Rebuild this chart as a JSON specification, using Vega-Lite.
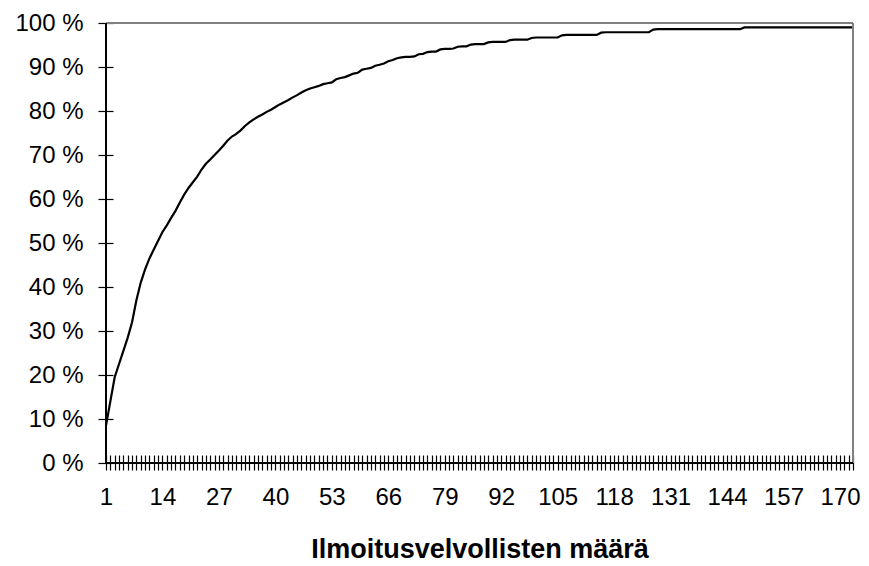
{
  "$schema": "https://vega.github.io/schema/vega-lite/v6.json",
  "autosize": "none",
  "padding": {"left": 106, "top": 23, "right": 16, "bottom": 103},
  "width": 747,
  "height": 440,
  "config": {
    "view": {"stroke": null},
    "font": "Liberation Sans",
    "axis": {"grid": false, "labelColor": "black", "titleColor": "black", "labelFont": "Liberation Sans", "titleFont": "Liberation Sans"}
  },
  "resolve": {"axis": {"x": "independent", "y": "independent"}},
  "data": {"values": [
    {"n":1,"p":8.5},{"n":2,"p":14},{"n":3,"p":19.5},{"n":4,"p":22.5},{"n":5,"p":25.5},{"n":6,"p":28.5},{"n":7,"p":32},{"n":8,"p":37},{"n":9,"p":41},{"n":10,"p":44},
    {"n":11,"p":46.5},{"n":12,"p":48.5},{"n":13,"p":50.5},{"n":14,"p":52.5},{"n":15,"p":54},{"n":16,"p":55.7},{"n":17,"p":57.3},{"n":18,"p":59.2},{"n":19,"p":61},{"n":20,"p":62.5},
    {"n":21,"p":63.8},{"n":22,"p":65.1},{"n":23,"p":66.7},{"n":24,"p":68},{"n":25,"p":69},{"n":26,"p":70},{"n":27,"p":71},{"n":28,"p":72.1},{"n":29,"p":73.3},{"n":30,"p":74.2},
    {"n":31,"p":74.8},{"n":32,"p":75.6},{"n":33,"p":76.6},{"n":34,"p":77.4},{"n":35,"p":78.1},{"n":36,"p":78.7},{"n":37,"p":79.2},{"n":38,"p":79.8},{"n":39,"p":80.3},{"n":40,"p":80.9},
    {"n":41,"p":81.5},{"n":42,"p":82},{"n":43,"p":82.5},{"n":44,"p":83.1},{"n":45,"p":83.6},{"n":46,"p":84.2},{"n":47,"p":84.7},{"n":48,"p":85.1},{"n":49,"p":85.4},{"n":50,"p":85.7},
    {"n":51,"p":86.1},{"n":52,"p":86.3},{"n":53,"p":86.5},{"n":54,"p":87.2},{"n":55,"p":87.5},{"n":56,"p":87.7},{"n":57,"p":88.1},{"n":58,"p":88.5},{"n":59,"p":88.7},{"n":60,"p":89.4},
    {"n":61,"p":89.6},{"n":62,"p":89.8},{"n":63,"p":90.3},{"n":64,"p":90.5},{"n":65,"p":90.8},{"n":66,"p":91.3},{"n":67,"p":91.6},{"n":68,"p":92.0},{"n":69,"p":92.2},{"n":70,"p":92.3},
    {"n":71,"p":92.3},{"n":72,"p":92.4},{"n":73,"p":92.9},{"n":74,"p":93.0},{"n":75,"p":93.4},{"n":76,"p":93.5},{"n":77,"p":93.5},{"n":78,"p":94.0},{"n":79,"p":94.1},{"n":80,"p":94.1},
    {"n":81,"p":94.2},{"n":82,"p":94.6},{"n":83,"p":94.7},{"n":84,"p":94.7},{"n":85,"p":95.1},{"n":86,"p":95.2},{"n":87,"p":95.2},{"n":88,"p":95.2},{"n":89,"p":95.6},{"n":90,"p":95.7},
    {"n":91,"p":95.7},{"n":92,"p":95.7},{"n":93,"p":95.7},{"n":94,"p":96.1},{"n":95,"p":96.2},{"n":96,"p":96.2},{"n":97,"p":96.2},{"n":98,"p":96.2},{"n":99,"p":96.6},{"n":100,"p":96.7},
    {"n":101,"p":96.7},{"n":102,"p":96.7},{"n":103,"p":96.7},{"n":104,"p":96.7},{"n":105,"p":96.7},{"n":106,"p":97.2},{"n":107,"p":97.3},{"n":108,"p":97.3},{"n":109,"p":97.3},{"n":110,"p":97.3},
    {"n":111,"p":97.3},{"n":112,"p":97.3},{"n":113,"p":97.3},{"n":114,"p":97.3},{"n":115,"p":97.8},{"n":116,"p":97.9},{"n":117,"p":97.9},{"n":118,"p":97.9},{"n":119,"p":97.9},{"n":120,"p":97.9},
    {"n":121,"p":97.9},{"n":122,"p":97.9},{"n":123,"p":97.9},{"n":124,"p":97.9},{"n":125,"p":97.9},{"n":126,"p":97.9},{"n":127,"p":98.5},{"n":128,"p":98.6},{"n":129,"p":98.6},{"n":130,"p":98.6},
    {"n":131,"p":98.6},{"n":132,"p":98.6},{"n":133,"p":98.6},{"n":134,"p":98.6},{"n":135,"p":98.6},{"n":136,"p":98.6},{"n":137,"p":98.6},{"n":138,"p":98.6},{"n":139,"p":98.6},{"n":140,"p":98.6},
    {"n":141,"p":98.6},{"n":142,"p":98.6},{"n":143,"p":98.6},{"n":144,"p":98.6},{"n":145,"p":98.6},{"n":146,"p":98.6},{"n":147,"p":98.6},{"n":148,"p":99.0},{"n":149,"p":99.0},{"n":150,"p":99.0},
    {"n":151,"p":99.0},{"n":152,"p":99.0},{"n":153,"p":99.0},{"n":154,"p":99.0},{"n":155,"p":99.0},{"n":156,"p":99.0},{"n":157,"p":99.0},{"n":158,"p":99.0},{"n":159,"p":99.0},{"n":160,"p":99.0},
    {"n":161,"p":99.0},{"n":162,"p":99.0},{"n":163,"p":99.0},{"n":164,"p":99.0},{"n":165,"p":99.0},{"n":166,"p":99.0},{"n":167,"p":99.0},{"n":168,"p":99.0},{"n":169,"p":99.0},{"n":170,"p":99.0},
    {"n":171,"p":99.0},{"n":172,"p":99.0},{"n":173,"p":99.0}
  ]},
  "layer": [
    {
      "mark": {"type": "line", "color": "black", "strokeWidth": 2.2, "clip": false},
      "encoding": {
        "x": {
          "field": "n", "type": "quantitative",
          "scale": {"domain": [1, 173], "nice": false, "zero": false},
          "axis": {
            "title": "Ilmoitusvelvollisten määrä",
            "titleFontSize": 27, "titleFontWeight": "bold", "titlePadding": 27,
            "values": [1,2,3,4,5,6,7,8,9,10,11,12,13,14,15,16,17,18,19,20,21,22,23,24,25,26,27,28,29,30,31,32,33,34,35,36,37,38,39,40,41,42,43,44,45,46,47,48,49,50,51,52,53,54,55,56,57,58,59,60,61,62,63,64,65,66,67,68,69,70,71,72,73,74,75,76,77,78,79,80,81,82,83,84,85,86,87,88,89,90,91,92,93,94,95,96,97,98,99,100,101,102,103,104,105,106,107,108,109,110,111,112,113,114,115,116,117,118,119,120,121,122,123,124,125,126,127,128,129,130,131,132,133,134,135,136,137,138,139,140,141,142,143,144,145,146,147,148,149,150,151,152,153,154,155,156,157,158,159,160,161,162,163,164,165,166,167,168,169,170,171,172,173],
            "labelExpr": "(datum.value - 1) % 13 == 0 ? datum.value : ''",
            "labelOverlap": false, "labelFlush": false, "labelBound": false,
            "labelFontSize": 24, "labelPadding": 15,
            "domain": false, "offset": -8, "tickSize": 15, "tickColor": "black", "tickWidth": 1.2
          }
        },
        "y": {
          "field": "p", "type": "quantitative",
          "scale": {"domain": [0, 100], "nice": false},
          "axis": {
            "title": null,
            "values": [0,10,20,30,40,50,60,70,80,90,100],
            "labelExpr": "datum.value + ' %'",
            "labelFontSize": 24, "labelPadding": 15,
            "domain": false, "offset": -7, "tickSize": 15, "tickColor": "black", "tickWidth": 1.2
          }
        }
      }
    },
    {
      "mark": {"type": "rule", "color": "#808080", "strokeWidth": 2},
      "encoding": {"y": {"datum": 100, "type": "quantitative", "axis": null}}
    },
    {
      "mark": {"type": "rule", "color": "#808080", "strokeWidth": 2},
      "encoding": {"x": {"datum": 173, "type": "quantitative", "axis": null}}
    },
    {
      "mark": {"type": "rule", "color": "black", "strokeWidth": 1.5},
      "encoding": {"x": {"datum": 1, "type": "quantitative", "axis": null}}
    },
    {
      "mark": {"type": "rule", "color": "black", "strokeWidth": 1.5},
      "encoding": {"y": {"datum": 0, "type": "quantitative", "axis": null}}
    }
  ]
}
